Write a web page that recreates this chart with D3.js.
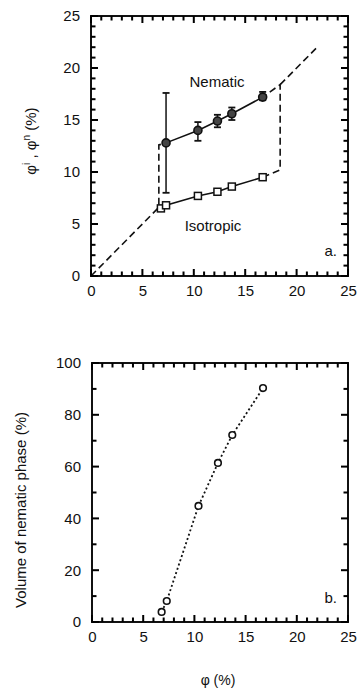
<!DOCTYPE html>
<html>
<head>
<meta charset="utf-8">
<script src="https://cdn.jsdelivr.net/npm/d3@7"></script>
<style>
  body { margin: 0; background: #fff; }
</style>
</head>
<body>
<div id="chart"></div>
<script>
// ---- data ----
const phiX = [6.8, 7.3, 10.4, 12.3, 13.7, 16.7];

// panel a
const isoY = [6.5, 6.8, 7.7, 8.1, 8.6, 9.5];
const nemX = [7.3, 10.4, 12.3, 13.7, 16.7];
const nemY = [12.8, 14.0, 14.9, 15.6, 17.2];
const nemLo = [8.0, 13.0, 14.3, 15.0, 16.9];
const nemHi = [17.6, 14.8, 15.5, 16.2, 17.7];
// coexistence boundaries (dashed)
const coexLeft = [[0, 0], [6.6, 6.6], [6.6, 12.6], [7.3, 12.8]];
const coexRight = [[16.7, 9.5], [18.4, 10.2], [18.4, 18.4], [16.7, 17.2]];
const diagHigh = [[18.4, 18.4], [21.9, 21.9]];

// panel b
const nematicVolume = [3.9, 8.1, 44.8, 61.4, 72.2, 90.3];

const xTicks = [0, 5, 10, 15, 20, 25];
const yTicksA = [0, 5, 10, 15, 20, 25];
const yTicksB = [0, 20, 40, 60, 80, 100];

const FONT = "Liberation Sans, Arial, sans-serif";
const W = 359, H = 700;
const svg = d3.select("#chart").append("svg")
  .attr("width", W).attr("height", H)
  .attr("font-family", FONT);

// ticks collected here and drawn last, on top of everything
const tickBars = [];

function drawFrame(g, x, y, xMinor, yMinor, yMajor) {
  const [x0, x1] = x.range();
  const [y0, y1] = y.range();

  g.append("g").attr("transform", `translate(0,${y0})`)
    .call(d3.axisBottom(x).tickValues(xTicks).tickSize(0).tickPadding(9))
    .call(a => a.select(".domain").remove());
  g.append("g").attr("transform", `translate(${x0},0)`)
    .call(d3.axisLeft(y).tickValues(yMajor).tickSize(0).tickPadding(11))
    .call(a => a.select(".domain").remove());
  g.selectAll(".tick text")
    .attr("font-size", 15).attr("font-family", FONT).attr("fill", "#111");

  g.append("rect")
    .attr("x", x0).attr("y", y1)
    .attr("width", x1 - x0).attr("height", y0 - y1)
    .attr("fill", "none").attr("stroke", "#111").attr("stroke-width", 2);

  const t = 2;
  const xt = xTicks.map(v => [v, 7]).concat(xMinor.map(v => [v, 4.5]));
  const yt = yMajor.map(v => [v, 7]).concat(yMinor.map(v => [v, 4.5]));
  xt.forEach(([v, len]) => {
    const px = x(v) - t / 2;
    tickBars.push([px, y0 - len, t, len]);
    tickBars.push([px, y1, t, len]);
  });
  yt.forEach(([v, len]) => {
    const py = y(v) - t / 2;
    tickBars.push([x0, py, len, t]);
    tickBars.push([x1 - len, py, len, t]);
  });
}

// ================= panel a =================
const xa = d3.scaleLinear().domain([0, 25]).range([91, 348]);
const ya = d3.scaleLinear().domain([0, 25]).range([276, 16]);
const ga = svg.append("g");

drawFrame(ga, xa, ya,
  d3.range(1, 25).filter(v => v % 5 !== 0),
  d3.range(1, 25).filter(v => v % 5 !== 0),
  yTicksA);

const lineA = d3.line().x(d => xa(d[0])).y(d => ya(d[1]));

[coexLeft, coexRight, diagHigh].forEach(pts => {
  ga.append("path").attr("d", lineA(pts))
    .attr("fill", "none").attr("stroke", "#111")
    .attr("stroke-width", 1.6).attr("stroke-dasharray", "7,4");
});

// isotropic
const isoPts = phiX.map((v, i) => [v, isoY[i]]);
ga.append("path").attr("d", lineA(isoPts))
  .attr("fill", "none").attr("stroke", "#111").attr("stroke-width", 1.6);
ga.selectAll("rect.iso").data(isoPts).join("rect").attr("class", "iso")
  .attr("x", d => xa(d[0]) - 3.5).attr("y", d => ya(d[1]) - 3.5)
  .attr("width", 7).attr("height", 7)
  .attr("fill", "#fff").attr("stroke", "#111").attr("stroke-width", 1.5);

// nematic
const nemPts = nemX.map((v, i) => [v, nemY[i]]);
ga.append("path").attr("d", lineA(nemPts))
  .attr("fill", "none").attr("stroke", "#111").attr("stroke-width", 1.6);
nemX.forEach((v, i) => {
  const cx = xa(v);
  ga.append("line").attr("x1", cx).attr("x2", cx)
    .attr("y1", ya(nemLo[i])).attr("y2", ya(nemHi[i]))
    .attr("stroke", "#111").attr("stroke-width", 1.5);
  [nemLo[i], nemHi[i]].forEach(e => {
    ga.append("line").attr("x1", cx - 3.5).attr("x2", cx + 3.5)
      .attr("y1", ya(e)).attr("y2", ya(e))
      .attr("stroke", "#111").attr("stroke-width", 1.8);
  });
});
ga.selectAll("circle.nem").data(nemPts).join("circle").attr("class", "nem")
  .attr("cx", d => xa(d[0])).attr("cy", d => ya(d[1])).attr("r", 4)
  .attr("fill", "#444").attr("stroke", "#111").attr("stroke-width", 1.6);

ga.append("text").attr("x", 217).attr("y", 87).attr("text-anchor", "middle")
  .attr("font-size", 15).attr("fill", "#111").text("Nematic");
ga.append("text").attr("x", 213).attr("y", 231).attr("text-anchor", "middle")
  .attr("font-size", 15).attr("fill", "#111").text("Isotropic");
ga.append("text").attr("x", 337).attr("y", 256).attr("text-anchor", "end")
  .attr("font-size", 15).attr("fill", "#111").text("a.");

ga.append("text")
  .attr("transform", "translate(36,141) rotate(-90)")
  .attr("text-anchor", "middle").attr("font-size", 15).attr("fill", "#111")
  .call(t => {
    t.append("tspan").text("φ");
    t.append("tspan").attr("dy", -6).attr("font-size", 10).text("i");
    t.append("tspan").attr("dy", 6).text(" , φ");
    t.append("tspan").attr("dy", -6).attr("font-size", 10).text("n");
    t.append("tspan").attr("dy", 6).text(" (%)");
  });

// ================= panel b =================
const xb = d3.scaleLinear().domain([0, 25]).range([92, 348]);
const yb = d3.scaleLinear().domain([0, 100]).range([622, 363]);
const gb = svg.append("g");

drawFrame(gb, xb, yb,
  d3.range(1, 25).filter(v => v % 5 !== 0),
  d3.range(10, 100, 20),
  yTicksB);

const volPts = phiX.map((v, i) => [v, nematicVolume[i]]);
gb.append("path")
  .attr("d", d3.line().x(d => xb(d[0])).y(d => yb(d[1]))(volPts))
  .attr("fill", "none").attr("stroke", "#111")
  .attr("stroke-width", 1.8).attr("stroke-dasharray", "2,2.5");
gb.selectAll("circle.vol").data(volPts).join("circle").attr("class", "vol")
  .attr("cx", d => xb(d[0])).attr("cy", d => yb(d[1])).attr("r", 3.3)
  .attr("fill", "#fff").attr("stroke", "#111").attr("stroke-width", 1.6);

gb.append("text").attr("x", 337).attr("y", 603).attr("text-anchor", "end")
  .attr("font-size", 15).attr("fill", "#111").text("b.");

gb.append("text")
  .attr("transform", "translate(26,510) rotate(-90)")
  .attr("text-anchor", "middle").attr("font-size", 15).attr("fill", "#111")
  .text("Volume of nematic phase (%)");

svg.append("text").attr("x", 218).attr("y", 685).attr("text-anchor", "middle")
  .attr("font-size", 14).attr("fill", "#111").text("φ (%)");

// all tick marks, drawn last
svg.append("g").attr("class", "ticks")
  .selectAll("rect").data(tickBars).join("rect")
  .attr("x", d => d[0]).attr("y", d => d[1])
  .attr("width", d => d[2]).attr("height", d => d[3])
  .attr("fill", "#000");
</script>
</body>
</html>
